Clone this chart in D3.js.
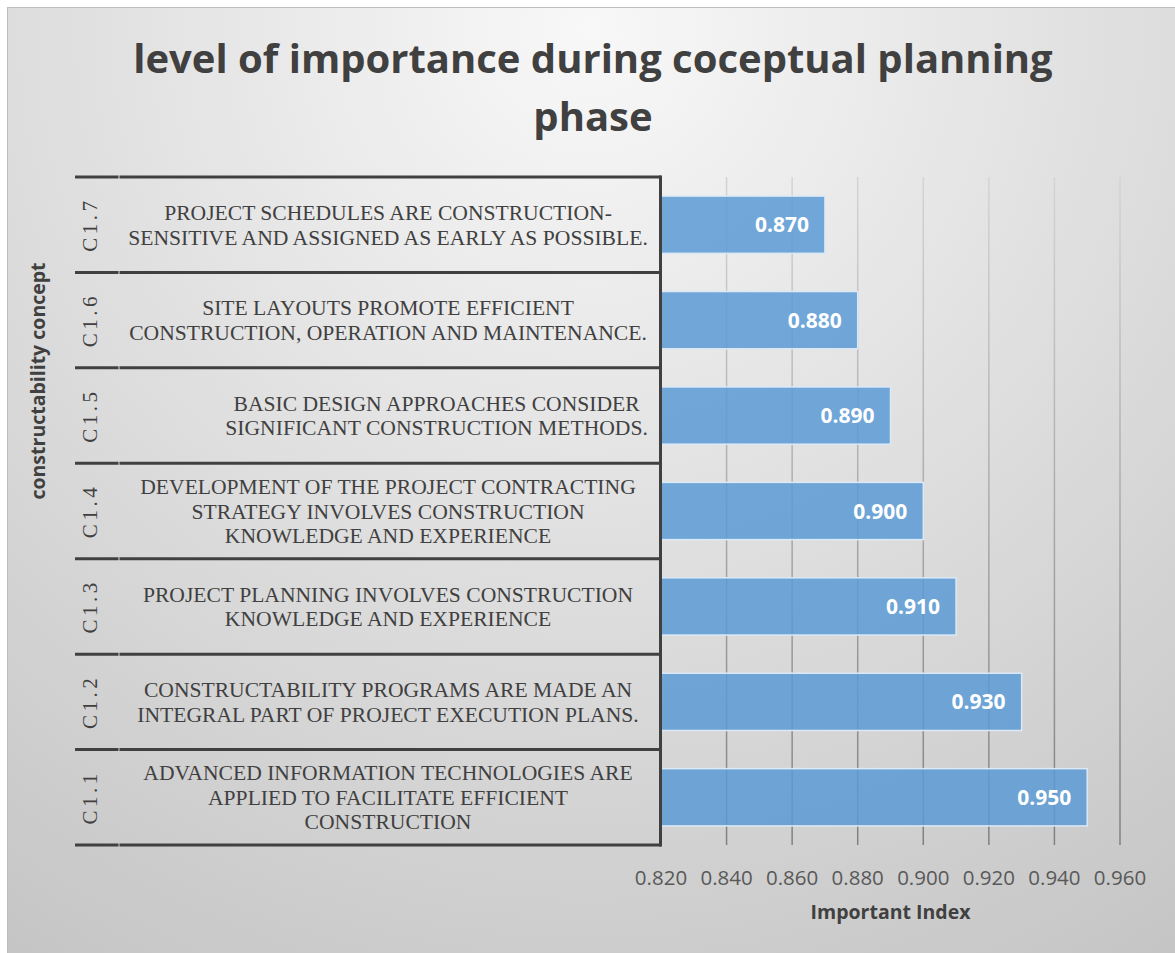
<!DOCTYPE html>
<html>
<head>
<meta charset="utf-8">
<script src="https://cdn.jsdelivr.net/npm/d3@7"></script>
<style>
  html, body { margin: 0; padding: 0; background: #ffffff; }
  svg { display: block; }
</style>
</head>
<body>
<svg id="chart" width="1175" height="953"></svg>
<script>
// Constructability concepts, listed bottom (C1.1) to top (C1.7)
const codes = ["C1.1", "C1.2", "C1.3", "C1.4", "C1.5", "C1.6", "C1.7"];
const labelLines = [
  ["ADVANCED INFORMATION TECHNOLOGIES ARE", "APPLIED TO FACILITATE EFFICIENT", "CONSTRUCTION"],
  ["CONSTRUCTABILITY PROGRAMS ARE MADE AN", "INTEGRAL PART OF PROJECT EXECUTION PLANS."],
  ["PROJECT PLANNING INVOLVES CONSTRUCTION", "KNOWLEDGE AND EXPERIENCE"],
  ["DEVELOPMENT OF THE PROJECT CONTRACTING", "STRATEGY INVOLVES CONSTRUCTION", "KNOWLEDGE AND EXPERIENCE"],
  ["\u00a0\u00a0\u00a0\u00a0\u00a0\u00a0\u00a0\u00a0\u00a0\u00a0\u00a0\u00a0\u00a0\u00a0\u00a0\u00a0\u00a0\u00a0BASIC DESIGN APPROACHES CONSIDER",
   "\u00a0\u00a0\u00a0\u00a0\u00a0\u00a0\u00a0\u00a0\u00a0\u00a0\u00a0\u00a0\u00a0\u00a0\u00a0\u00a0\u00a0\u00a0SIGNIFICANT CONSTRUCTION METHODS."],
  ["SITE LAYOUTS PROMOTE EFFICIENT", "CONSTRUCTION, OPERATION AND MAINTENANCE."],
  ["PROJECT SCHEDULES ARE CONSTRUCTION-", "SENSITIVE AND ASSIGNED AS EARLY AS POSSIBLE."]
];
const importanceIndex = [0.950, 0.930, 0.910, 0.900, 0.890, 0.880, 0.870];
const xTicks = [0.820, 0.840, 0.860, 0.880, 0.900, 0.920, 0.940, 0.960];

const titleLines = ["level of importance during coceptual planning", "phase"];
const xTitle = "Important Index";
const yTitle = "constructability concept";

const rows = codes.map((c, i) => ({ code: c, lines: labelLines[i], value: importanceIndex[i] }));

const W = 1175, H = 953;
const plot = { left: 661, right: 1120, top: 177, bottom: 845 };
const boxLeft = 75, codeColRight = 119;
const sans = "'Open Sans', sans-serif";
const serif = "'Liberation Serif', 'Times New Roman', serif";

const svg = d3.select("#chart");
const defs = svg.append("defs");

// Soft radial fill behind the whole chart
const bg = defs.append("radialGradient")
  .attr("id", "bgGrad").attr("gradientUnits", "userSpaceOnUse")
  .attr("cx", 590).attr("cy", 30).attr("r", 1130);
bg.append("stop").attr("offset", 0).attr("stop-color", "#f8f8f8");
bg.append("stop").attr("offset", 1).attr("stop-color", "#c3c3c3");

// Gridlines fade from light at the top to darker at the bottom
const gg = defs.append("linearGradient")
  .attr("id", "gridGrad").attr("gradientUnits", "userSpaceOnUse")
  .attr("x1", 0).attr("y1", plot.top).attr("x2", 0).attr("y2", plot.bottom);
gg.append("stop").attr("offset", 0).attr("stop-color", "#d4d4d4");
gg.append("stop").attr("offset", 1).attr("stop-color", "#808080");

svg.append("rect")
  .attr("x", 7.5).attr("y", 7.5).attr("width", W).attr("height", H)
  .attr("fill", "url(#bgGrad)").attr("stroke", "#bdbdbd").attr("stroke-width", 1);

const x = d3.scaleLinear().domain([0.82, 0.96]).range([plot.left, plot.right]);
const y = d3.scaleBand()
  .domain(codes.slice().reverse())
  .range([plot.top, plot.bottom])
  .paddingInner(0.4).paddingOuter(0.2);

// Vertical gridlines
svg.append("g").selectAll("line")
  .data(xTicks)
  .join("line")
  .attr("x1", d => x(d)).attr("x2", d => x(d))
  .attr("y1", plot.top).attr("y2", plot.bottom)
  .attr("stroke", "url(#gridGrad)").attr("stroke-width", 1.5);

// Bars
svg.append("g").selectAll("rect")
  .data(rows)
  .join("rect")
  .attr("x", x(0.82))
  .attr("y", d => y(d.code))
  .attr("width", d => x(d.value) - x(0.82))
  .attr("height", y.bandwidth())
  .attr("fill", "#5b9bd5").attr("fill-opacity", 0.85)
  .attr("stroke", "#dce9f6").attr("stroke-width", 1.5);

// Value labels inside bar ends
svg.append("g").selectAll("text")
  .data(rows)
  .join("text")
  .attr("x", d => x(d.value) - 16)
  .attr("y", d => y(d.code) + y.bandwidth() / 2)
  .attr("dy", "0.36em")
  .attr("text-anchor", "end")
  .attr("font-family", sans).attr("font-weight", 700).attr("font-size", 21)
  .attr("fill", "#ffffff")
  .text(d => d3.format(".3f")(d.value));

// Category boxes: separators between the two-level labels
const step = y.step();
const bounds = d3.range(codes.length + 1).map(i => plot.top + i * step);
const sep = svg.append("g").attr("stroke", "#404040").attr("stroke-width", 3);
sep.selectAll("line.a").data(bounds).join("line").attr("class", "a")
  .attr("x1", boxLeft).attr("x2", codeColRight - 0.5)
  .attr("y1", d => d).attr("y2", d => d);
sep.selectAll("line.b").data(bounds).join("line").attr("class", "b")
  .attr("x1", codeColRight + 0.5).attr("x2", plot.left)
  .attr("y1", d => d).attr("y2", d => d);
sep.append("line")
  .attr("x1", plot.left - 0.5).attr("x2", plot.left - 0.5)
  .attr("y1", plot.top - 1.5).attr("y2", plot.bottom + 1.5);

// Codes, rotated
svg.append("g").selectAll("text")
  .data(rows)
  .join("text")
  .attr("transform", d => `translate(90,${y(d.code) + y.bandwidth() / 2}) rotate(-90)`)
  .attr("text-anchor", "middle").attr("dy", "0.35em")
  .attr("font-family", serif).attr("font-size", 21).attr("letter-spacing", 3.5)
  .attr("fill", "#404040")
  .text(d => d.code);

// Concept descriptions
const lh = 24.5;
const labelX = 388;
svg.append("g").selectAll("text")
  .data(rows)
  .join("text")
  .attr("font-family", serif).attr("font-size", 21.6)
  .attr("fill", "#404040").attr("text-anchor", "middle")
  .each(function (d) {
    const t = d3.select(this);
    const cy = y(d.code) + y.bandwidth() / 2;
    const n = d.lines.length;
    d.lines.forEach((ln, i) => {
      t.append("tspan")
        .attr("x", labelX)
        .attr("y", cy + (i - (n - 1) / 2) * lh)
        .attr("dy", "0.35em")
        .text(ln);
    });
  });

// X tick labels
svg.append("g").selectAll("text")
  .data(xTicks)
  .join("text")
  .attr("x", d => x(d)).attr("y", 878).attr("dy", "0.35em")
  .attr("text-anchor", "middle")
  .attr("font-family", sans).attr("font-size", 20.5)
  .attr("fill", "#595959")
  .text(d => d3.format(".3f")(d));

// Axis titles
svg.append("text")
  .attr("x", (plot.left + plot.right) / 2).attr("y", 912).attr("dy", "0.35em")
  .attr("text-anchor", "middle")
  .attr("font-family", sans).attr("font-weight", 700).attr("font-size", 19.5)
  .attr("fill", "#404040").text(xTitle);

svg.append("text")
  .attr("transform", "translate(38,381) rotate(-90)")
  .attr("dy", "0.35em").attr("text-anchor", "middle")
  .attr("font-family", sans).attr("font-weight", 700).attr("font-size", 19.5)
  .attr("fill", "#404040").text(yTitle);

// Chart title
svg.append("g").selectAll("text")
  .data(titleLines)
  .join("text")
  .attr("x", 593).attr("y", (d, i) => 73 + i * 58)
  .attr("text-anchor", "middle")
  .attr("font-family", sans).attr("font-weight", 700).attr("font-size", 40)
  .attr("fill", "#404040")
  .text(d => d);
</script>
</body>
</html>
